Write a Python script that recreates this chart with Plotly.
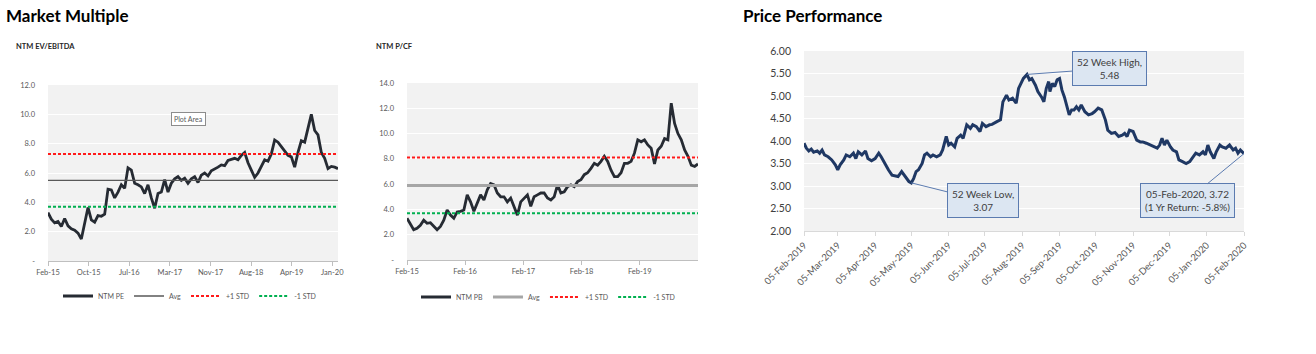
import pandas as pd
import plotly.graph_objects as go

W, H = 1316, 354
FONT = "Lato"

# ---------------- data: NTM EV/EBITDA (legend "NTM PE") ----------------
pe_start = "2015-02-06"
pe_values = [3.3, 2.85, 2.6, 2.7, 2.35, 2.9, 2.4, 2.2, 2.1, 1.9,
             1.5, 2.6, 3.65, 2.8, 2.65, 3.1, 3.05, 3.2, 4.9, 4.85,
             4.3, 4.7, 5.2, 4.95, 6.35, 6.2, 5.3, 5.2, 5.05, 4.6,
             5.2, 4.3, 3.6, 4.6, 4.7, 5.55, 4.7, 5.3, 5.6, 5.75,
             5.5, 5.65, 5.3, 5.6, 5.75, 5.35, 5.85, 6.0, 5.8, 6.15,
             6.25, 6.4, 6.55, 6.5, 6.85, 6.9, 7.0, 6.9, 7.2, 7.4,
             6.7, 6.2, 5.7, 6.0, 6.4, 6.9, 6.8, 7.3, 8.25, 8.1,
             7.8, 7.5, 7.2, 7.1, 6.4, 7.4, 8.2, 8.1, 9.0, 10.0,
             8.9, 8.6, 7.4, 7.0, 6.3, 6.45, 6.4, 6.3]
pe_avg, pe_plus, pe_minus = 5.5, 7.3, 3.7
pe_tick_dates = ["2015-02-06", "2015-10-20", "2016-07-02", "2017-03-15",
                 "2017-11-26", "2018-08-09", "2019-04-21", "2020-01-02"]
pe_tick_labels = ["Feb-15", "Oct-15", "Jul-16", "Mar-17", "Nov-17", "Aug-18", "Apr-19", "Jan-20"]
pe_y_ticks = [0, 2, 4, 6, 8, 10, 12]
pe_y_labels = ["-", "2.0", "4.0", "6.0", "8.0", "10.0", "12.0"]

# ---------------- data: NTM P/CF (legend "NTM PB") ----------------
pb_start = "2015-02-06"
pb_values = [3.3, 2.8, 2.4, 2.5, 2.75, 3.15, 2.9, 2.95, 2.65, 2.4,
             2.65, 3.15, 3.95, 3.55, 3.3, 3.8, 3.85, 3.95, 5.15, 4.6,
             3.85, 4.5, 5.15, 4.75, 5.55, 6.05, 5.95, 5.3, 5.0, 5.0,
             4.6, 4.9, 4.2, 3.55, 4.6, 4.9, 5.15, 4.25, 5.0, 5.15,
             5.3, 5.3, 4.9, 4.75, 5.0, 5.95, 5.3, 5.4, 5.8, 5.95,
             5.8, 6.2, 6.35, 6.75, 6.9, 7.25, 7.65, 7.5, 7.8, 8.2,
             7.8, 7.1, 6.6, 6.6, 6.9, 7.65, 7.65, 7.8, 8.45, 9.5,
             9.35, 9.5, 9.1, 8.85, 7.6, 8.7, 9.0, 9.6, 9.5, 12.4,
             10.8, 10.0, 9.5, 8.7, 8.2, 7.5, 7.4, 7.6]
pb_avg, pb_plus, pb_minus = 5.9, 8.1, 3.7
pb_tick_dates = ["2015-02-06", "2016-02-06", "2017-02-06", "2018-02-06", "2019-02-06"]
pb_tick_labels = ["Feb-15", "Feb-16", "Feb-17", "Feb-18", "Feb-19"]
pb_y_ticks = [0, 2, 4, 6, 8, 10, 12, 14]
pb_y_labels = ["-", "2.0", "4.0", "6.0", "8.0", "10.0", "12.0", "14.0"]

# ---------------- data: Price performance ----------------
px_start = "2019-02-05"
px_day_offsets = [0, 2, 4, 6, 8, 11, 13, 15, 17, 20,
                  23, 26, 28, 30, 33, 35, 38, 41, 43, 45,
                  48, 51, 53, 56, 59, 62, 64, 67, 70, 73,
                  75, 78, 81, 84, 87, 89, 91, 93, 95, 98,
                  100, 102, 105, 107, 110, 113, 115, 118, 120, 122,
                  125, 127, 130, 132, 135, 138, 140, 143, 146, 148,
                  151, 154, 156, 160, 163, 165, 168, 170, 173, 176,
                  178,
                  182, 185, 187, 189, 192, 194, 197, 199, 201, 203,
                  204, 206, 208, 210, 212, 214, 216, 218, 220, 222,
                  224, 226, 228, 230, 233, 236, 239, 241, 244, 247,
                  250, 252, 255, 258, 261, 264, 266, 268, 270, 273,
                  276, 279, 281, 284, 287, 290, 293, 295, 297, 299,
                  301, 304, 306, 309, 311, 314, 317, 320, 322, 325,
                  328, 331, 333, 335, 337, 340, 342, 345, 347, 350,
                  353, 356, 358, 360, 362, 365]
px_values = [3.95, 3.84, 3.78, 3.82, 3.75, 3.78, 3.73, 3.80, 3.69, 3.65,
             3.58, 3.47, 3.36, 3.47, 3.58, 3.69, 3.65, 3.73, 3.61, 3.76,
             3.69, 3.78, 3.61, 3.56, 3.61, 3.73, 3.65, 3.50, 3.36, 3.24,
             3.23, 3.21, 3.32, 3.21, 3.10, 3.07, 3.17, 3.32, 3.36, 3.50,
             3.69, 3.73, 3.65, 3.69, 3.65, 3.69, 3.80, 4.10, 3.91, 3.95,
             3.87, 4.06, 4.13, 4.06, 4.36, 4.28, 4.36, 4.32, 4.21, 4.39,
             4.32, 4.36, 4.37, 4.43, 4.47, 4.87, 5.02, 4.91, 4.95, 4.84,
             5.17,
             5.39, 5.48, 5.36, 5.39, 5.24, 5.10, 4.98, 4.87, 5.17, 5.32,
             5.10, 5.28, 5.21, 5.36, 5.39, 5.13, 4.98, 4.80, 4.58, 4.69,
             4.69, 4.76, 4.69, 4.80, 4.65, 4.58, 4.61, 4.65, 4.73, 4.69,
             4.47, 4.24, 4.17, 4.19, 4.10, 4.13, 4.17, 4.10, 4.24, 4.21,
             4.02, 3.98, 3.98, 3.95, 3.91, 3.87, 3.84, 3.91, 4.06, 3.91,
             4.02, 3.87, 3.80, 3.76, 3.58, 3.54, 3.50, 3.54, 3.61, 3.73,
             3.69, 3.76, 3.69, 3.91, 3.76, 3.61, 3.76, 3.91, 3.87, 3.84,
             3.91, 3.80, 3.84, 3.73, 3.80, 3.72]
px_tick_dates = ["2019-02-05", "2019-03-05", "2019-04-05", "2019-05-05", "2019-06-05",
                 "2019-07-05", "2019-08-05", "2019-09-05", "2019-10-05", "2019-11-05",
                 "2019-12-05", "2020-01-05", "2020-02-05"]
px_y_ticks = [2.0, 2.5, 3.0, 3.5, 4.0, 4.5, 5.0, 5.5, 6.0]

# ---------------- derived series ----------------
pe_dates = pd.date_range(pe_start, periods=len(pe_values), freq="21D")
pb_dates = pd.date_range(pb_start, periods=len(pb_values), freq="21D")
px_dates = pd.to_datetime(px_start) + pd.to_timedelta(px_day_offsets, unit="D")
px = pd.Series(px_values, index=px_dates)

# ---------------- geometry helpers (pixels -> paper) ----------------
def fx(px_):
    return px_ / W

def fy(py_):
    return 1 - py_ / H

fig = go.Figure()

DARK = "#262b33"
GREY_TXT = "#595959"

def add_multiple(dates, vals, avg, plus, minus, name, xa, ya, legend, avg_color, avg_width):
    x_ends = [dates[0], dates[-1]]
    fig.add_trace(go.Scatter(x=dates, y=vals, mode="lines", name=name,
                             line=dict(color=DARK, width=2.8), xaxis=xa, yaxis=ya, legend=legend))
    fig.add_trace(go.Scatter(x=x_ends, y=[avg, avg], mode="lines", name="Avg",
                             line=dict(color=avg_color, width=avg_width), xaxis=xa, yaxis=ya, legend=legend))
    fig.add_trace(go.Scatter(x=x_ends, y=[plus, plus], mode="lines", name="+1 STD",
                             line=dict(color="#ff1a1a", width=2, dash="3px,2px"), xaxis=xa, yaxis=ya, legend=legend))
    fig.add_trace(go.Scatter(x=x_ends, y=[minus, minus], mode="lines", name="-1 STD",
                             line=dict(color="#00b050", width=2, dash="3px,2px"), xaxis=xa, yaxis=ya, legend=legend))

add_multiple(pe_dates, pe_values, pe_avg, pe_plus, pe_minus, "NTM PE", "x", "y", "legend", "#595959", 1.3)
add_multiple(pb_dates, pb_values, pb_avg, pb_plus, pb_minus, "NTM PB", "x2", "y2", "legend2", "#a6a6a6", 3)

fig.add_trace(go.Scatter(x=px.index, y=px.values, mode="lines", name="Price",
                         line=dict(color="#1f3864", width=3), xaxis="x3", yaxis="y3", showlegend=False))

small_tick = dict(family=FONT, size=7.5, color=GREY_TXT)

common_x = dict(showgrid=False, zeroline=False, showline=True, linecolor="#bfbfbf", linewidth=1,
                ticks="outside", ticklen=4, tickcolor="#bfbfbf", tickfont=small_tick, automargin=False)
common_y = dict(showgrid=True, gridcolor="#ffffff", gridwidth=1, zeroline=False, showline=False,
                tickfont=small_tick, ticks="", ticklabelstandoff=12, automargin=False)

fig.update_layout(
    width=W, height=H, margin=dict(l=0, r=0, t=0, b=0, pad=0, autoexpand=False),
    paper_bgcolor="white", plot_bgcolor="#f2f2f2",
    font=dict(family=FONT, color=GREY_TXT),
    xaxis=dict(common_x, domain=[fx(48), fx(338)], anchor="y",
               range=[pe_dates[0], pe_dates[-1]],
               tickmode="array", tickvals=pe_tick_dates, ticktext=pe_tick_labels),
    yaxis=dict(common_y, domain=[fy(261), fy(85)], anchor="x", range=[0, 12],
               tickmode="array", tickvals=pe_y_ticks, ticktext=pe_y_labels),
    xaxis2=dict(common_x, domain=[fx(407), fx(698)], anchor="y2",
                range=[pb_dates[0], pb_dates[-1]],
                tickmode="array", tickvals=pb_tick_dates, ticktext=pb_tick_labels),
    yaxis2=dict(common_y, domain=[fy(260), fy(83)], anchor="x2", range=[0, 14],
                tickmode="array", tickvals=pb_y_ticks, ticktext=pb_y_labels),
    xaxis3=dict(common_x, domain=[fx(804), fx(1244)], anchor="y3",
                range=[px_tick_dates[0], px_tick_dates[-1]],
                tickmode="array", tickvals=px_tick_dates, tickformat="%d-%b-%Y",
                tickangle=-45, linecolor="#d9d9d9", tickcolor="#d9d9d9",
                tickfont=dict(family=FONT, size=9.5, color=GREY_TXT)),
    yaxis3=dict(common_y, domain=[fy(231), fy(51)], anchor="x3", range=[2, 6],
                tickmode="array", tickvals=px_y_ticks, tickformat=".2f",
                tickfont=dict(family=FONT, size=10.5, color="#404040")),
    legend=dict(x=fx(58), y=fy(296), xanchor="left", yanchor="middle", orientation="h",
                font=dict(family=FONT, size=7, color=GREY_TXT), itemwidth=30,
                bgcolor="rgba(0,0,0,0)"),
    legend2=dict(x=fx(416), y=fy(297), xanchor="left", yanchor="middle", orientation="h",
                 font=dict(family=FONT, size=7, color=GREY_TXT), itemwidth=30,
                 bgcolor="rgba(0,0,0,0)"),
)

annotations = [
    dict(text="<b>Market Multiple</b>", x=fx(4), y=fy(15), xref="paper", yref="paper",
         xanchor="left", yanchor="middle", showarrow=False,
         font=dict(family=FONT, size=17, color="#000000")),
    dict(text="<b>Price Performance</b>", x=fx(741), y=fy(15), xref="paper", yref="paper",
         xanchor="left", yanchor="middle", showarrow=False,
         font=dict(family=FONT, size=17, color="#000000")),
    dict(text="<b>NTM EV/EBITDA</b>", x=fx(14), y=fy(47), xref="paper", yref="paper",
         xanchor="left", yanchor="middle", showarrow=False,
         font=dict(family=FONT, size=7.5, color="#262626")),
    dict(text="<b>NTM P/CF</b>", x=fx(374), y=fy(47), xref="paper", yref="paper",
         xanchor="left", yanchor="middle", showarrow=False,
         font=dict(family=FONT, size=7.5, color="#262626")),
    dict(text="Plot Area", x=fx(188), y=fy(119), xref="paper", yref="paper",
         xanchor="center", yanchor="middle", showarrow=False, bgcolor="#ffffff",
         bordercolor="#8c8c8c", borderwidth=1, borderpad=2,
         font=dict(family=FONT, size=7, color="#595959")),
]

box = dict(xref="x3", yref="y3", showarrow=True, arrowhead=0, arrowwidth=1,
           arrowcolor="#5b7bb0", bgcolor="#dce6f2", bordercolor="#5b7bb0",
           borderwidth=1, borderpad=4, axref="pixel", ayref="pixel",
           font=dict(family=FONT, size=10, color="#404040"), align="center")

hi_date, hi_val = px.idxmax(), px.max()
lo_date, lo_val = px.idxmin(), px.min()
end_date, end_val = px.index[-1], px.iloc[-1]
ret = end_val / px.iloc[0] - 1

annotations += [
    dict(box, x=hi_date, y=hi_val, ax=82, ay=-6,
         text=f"52 Week High,<br>{hi_val:.2f}"),
    dict(box, x=lo_date, y=lo_val, ax=72, ay=18,
         text=f"52 Week Low,<br>{lo_val:.2f}"),
    dict(box, x=end_date, y=end_val, ax=-57, ay=47,
         text=f"{end_date:%d-%b-%Y}, {end_val:.2f}<br>(1 Yr Return: {ret*100:.1f}%)"),
]
fig.update_layout(annotations=annotations)

fig.write_html("out.html")
